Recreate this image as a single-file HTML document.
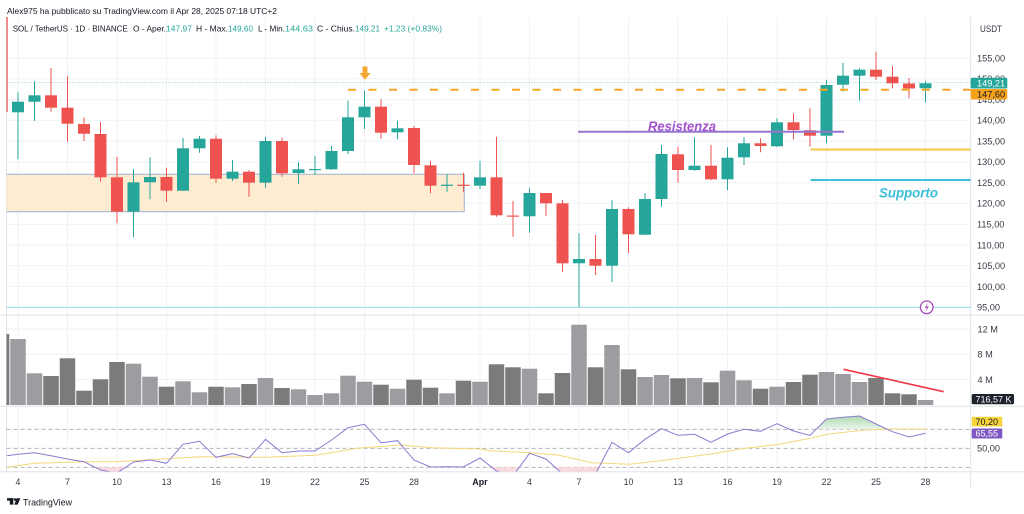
<!DOCTYPE html>
<html><head><meta charset="utf-8"><style>
html,body{margin:0;padding:0;background:#fff;}
svg{display:block;font-family:"Liberation Sans",sans-serif;}
</style></head><body>
<svg width="1024" height="514" viewBox="0 0 1024 514" xmlns="http://www.w3.org/2000/svg">
<defs>
<clipPath id="cp"><rect x="6.5" y="17" width="964.2" height="298"/></clipPath>
<clipPath id="cv"><rect x="6.5" y="315" width="964.2" height="91"/></clipPath>
<clipPath id="cr"><rect x="6.5" y="407" width="964.2" height="64.5"/></clipPath>
<linearGradient id="gg" x1="0" y1="0" x2="0" y2="1"><stop offset="0" stop-color="#a5d6a7"/><stop offset="1" stop-color="#e8f5e9"/></linearGradient>
</defs>
<rect width="1024" height="514" fill="#fff"/>

<!-- grid -->
<g stroke="#f0f2f6" stroke-width="1">
<line x1="18" y1="17" x2="18" y2="471.5"/><line x1="67.5" y1="17" x2="67.5" y2="471.5"/><line x1="117" y1="17" x2="117" y2="471.5"/><line x1="166.5" y1="17" x2="166.5" y2="471.5"/><line x1="216" y1="17" x2="216" y2="471.5"/><line x1="265.5" y1="17" x2="265.5" y2="471.5"/><line x1="315" y1="17" x2="315" y2="471.5"/><line x1="364.5" y1="17" x2="364.5" y2="471.5"/><line x1="414" y1="17" x2="414" y2="471.5"/><line x1="480" y1="17" x2="480" y2="471.5"/><line x1="529.5" y1="17" x2="529.5" y2="471.5"/><line x1="579" y1="17" x2="579" y2="471.5"/><line x1="628.5" y1="17" x2="628.5" y2="471.5"/><line x1="678" y1="17" x2="678" y2="471.5"/><line x1="727.5" y1="17" x2="727.5" y2="471.5"/><line x1="777" y1="17" x2="777" y2="471.5"/><line x1="826.5" y1="17" x2="826.5" y2="471.5"/><line x1="876" y1="17" x2="876" y2="471.5"/><line x1="925.5" y1="17" x2="925.5" y2="471.5"/>
<line x1="6.5" y1="58" x2="970.7" y2="58"/><line x1="6.5" y1="78.8" x2="970.7" y2="78.8"/><line x1="6.5" y1="99.6" x2="970.7" y2="99.6"/><line x1="6.5" y1="120.3" x2="970.7" y2="120.3"/><line x1="6.5" y1="141.1" x2="970.7" y2="141.1"/><line x1="6.5" y1="161.9" x2="970.7" y2="161.9"/><line x1="6.5" y1="182.7" x2="970.7" y2="182.7"/><line x1="6.5" y1="203.4" x2="970.7" y2="203.4"/><line x1="6.5" y1="224.2" x2="970.7" y2="224.2"/><line x1="6.5" y1="245" x2="970.7" y2="245"/><line x1="6.5" y1="265.8" x2="970.7" y2="265.8"/><line x1="6.5" y1="286.5" x2="970.7" y2="286.5"/>
<line x1="6.5" y1="329" x2="970.7" y2="329"/><line x1="6.5" y1="354.3" x2="970.7" y2="354.3"/><line x1="6.5" y1="379.5" x2="970.7" y2="379.5"/>
</g>

<!-- panel separators -->
<g stroke="#e0e3eb" stroke-width="1">
<line x1="6.5" y1="17" x2="6.5" y2="471.5"/>
<line x1="0" y1="315" x2="1024" y2="315"/>
<line x1="0" y1="406.3" x2="1024" y2="406.3"/>
<line x1="0" y1="471.7" x2="1024" y2="471.7"/>
<line x1="970.7" y1="17" x2="970.7" y2="488"/>
</g>

<!-- PRICE PANE -->
<g clip-path="url(#cp)">
<rect x="6.5" y="174.3" width="457.8" height="37.4" fill="#fdebd2"/>
<line x1="6.5" y1="174.3" x2="464.3" y2="174.3" stroke="#9fb1cf" stroke-width="1"/>
<line x1="6.5" y1="211.7" x2="464.3" y2="211.7" stroke="#9fb1cf" stroke-width="1"/>
<line x1="464.3" y1="174.3" x2="464.3" y2="211.7" stroke="#9fb1cf" stroke-width="1"/>
<line x1="6.5" y1="82.6" x2="970.7" y2="82.6" stroke="#88c9c0" stroke-width="1" stroke-dasharray="1,2"/>
<line x1="6.5" y1="307.3" x2="970.7" y2="307.3" stroke="#9fdcea" stroke-width="1.2"/>
<rect x="6.5" y="17" width="1.2" height="95" fill="#ef5350"/>

<g stroke-width="1">
<g fill="#26a69a" stroke="#26a69a">
<line x1="18" y1="92.3" x2="18" y2="159.3"/><rect x="12" y="101.7" width="12" height="10.6" stroke="none"/>
<line x1="34.5" y1="81.3" x2="34.5" y2="121"/><rect x="28.5" y="95.3" width="12" height="6.4" stroke="none"/>
<line x1="133.5" y1="169.3" x2="133.5" y2="237.3"/><rect x="127.5" y="182.3" width="12" height="29.4" stroke="none"/>
<line x1="150" y1="157.3" x2="150" y2="199.3"/><rect x="144" y="177" width="12" height="5.3" stroke="none"/>
<line x1="183" y1="138" x2="183" y2="191"/><rect x="177" y="148.3" width="12" height="42.4" stroke="none"/>
<line x1="199.5" y1="136" x2="199.5" y2="152.7"/><rect x="193.5" y="138.7" width="12" height="9.6" stroke="none"/>
<line x1="232.5" y1="160" x2="232.5" y2="181"/><rect x="226.5" y="171.7" width="12" height="7" stroke="none"/>
<line x1="265.5" y1="136.7" x2="265.5" y2="187.7"/><rect x="259.5" y="141" width="12" height="41.7" stroke="none"/>
<line x1="298.5" y1="162.3" x2="298.5" y2="184.3"/><rect x="292.5" y="169.3" width="12" height="3.7" stroke="none"/>
<line x1="315" y1="155.7" x2="315" y2="175"/><rect x="309" y="169" width="12" height="1.2" stroke="none"/>
<line x1="331.5" y1="146" x2="331.5" y2="170"/><rect x="325.5" y="151" width="12" height="18.3" stroke="none"/>
<line x1="348" y1="100.7" x2="348" y2="154.3"/><rect x="342" y="117.3" width="12" height="33.7" stroke="none"/>
<line x1="364.5" y1="90.7" x2="364.5" y2="129"/><rect x="358.5" y="106.7" width="12" height="10.6" stroke="none"/>
<line x1="397.5" y1="120.7" x2="397.5" y2="139.3"/><rect x="391.5" y="128.3" width="12" height="4" stroke="none"/>
<line x1="447" y1="174.3" x2="447" y2="191.7"/><rect x="441" y="184.7" width="12" height="1.2" stroke="none"/>
<line x1="480" y1="160.7" x2="480" y2="189"/><rect x="474" y="177.3" width="12" height="8.4" stroke="none"/>
<line x1="529.5" y1="188.3" x2="529.5" y2="232.7"/><rect x="523.5" y="193" width="12" height="23.3" stroke="none"/>
<line x1="579" y1="233.3" x2="579" y2="306.7"/><rect x="573" y="259" width="12" height="4.3" stroke="none"/>
<line x1="612" y1="200" x2="612" y2="282.3"/><rect x="606" y="209" width="12" height="56.7" stroke="none"/>
<line x1="645" y1="193.3" x2="645" y2="235"/><rect x="639" y="199" width="12" height="35.7" stroke="none"/>
<line x1="661.5" y1="145" x2="661.5" y2="206.7"/><rect x="655.5" y="154" width="12" height="45" stroke="none"/>
<line x1="694.5" y1="137.3" x2="694.5" y2="170.7"/><rect x="688.5" y="165.7" width="12" height="4.3" stroke="none"/>
<line x1="727.5" y1="147.3" x2="727.5" y2="190"/><rect x="721.5" y="157.7" width="12" height="21.6" stroke="none"/>
<line x1="744" y1="137.3" x2="744" y2="165"/><rect x="738" y="143.3" width="12" height="14" stroke="none"/>
<line x1="777" y1="118.3" x2="777" y2="147"/><rect x="771" y="122.3" width="12" height="24" stroke="none"/>
<line x1="826.5" y1="80" x2="826.5" y2="143.3"/><rect x="820.5" y="85" width="12" height="50.7" stroke="none"/>
<line x1="843" y1="62.7" x2="843" y2="91.7"/><rect x="837" y="75.7" width="12" height="9" stroke="none"/>
<line x1="859.5" y1="68.3" x2="859.5" y2="100.7"/><rect x="853.5" y="69.7" width="12" height="6" stroke="none"/>
<line x1="925.5" y1="81" x2="925.5" y2="102.3"/><rect x="919.5" y="83.3" width="12" height="5" stroke="none"/>
</g>
<g fill="#ef5350" stroke="#ef5350">
<line x1="51" y1="68" x2="51" y2="111.7"/><rect x="45" y="95.3" width="12" height="12.4" stroke="none"/>
<line x1="67.5" y1="76" x2="67.5" y2="141.7"/><rect x="61.5" y="107.7" width="12" height="16" stroke="none"/>
<line x1="84" y1="117.3" x2="84" y2="141"/><rect x="78" y="124" width="12" height="9.7" stroke="none"/>
<line x1="100.5" y1="122" x2="100.5" y2="181.7"/><rect x="94.5" y="134" width="12" height="43.3" stroke="none"/>
<line x1="117" y1="156.7" x2="117" y2="223.3"/><rect x="111" y="177.3" width="12" height="34.4" stroke="none"/>
<line x1="166.5" y1="167.7" x2="166.5" y2="201.7"/><rect x="160.5" y="177" width="12" height="13.7" stroke="none"/>
<line x1="216" y1="135.3" x2="216" y2="182.7"/><rect x="210" y="138.7" width="12" height="40" stroke="none"/>
<line x1="249" y1="170" x2="249" y2="196.7"/><rect x="243" y="171.7" width="12" height="11" stroke="none"/>
<line x1="282" y1="137.7" x2="282" y2="176.7"/><rect x="276" y="141" width="12" height="32.3" stroke="none"/>
<line x1="381" y1="99.3" x2="381" y2="138.7"/><rect x="375" y="106.7" width="12" height="26" stroke="none"/>
<line x1="414" y1="126" x2="414" y2="173.3"/><rect x="408" y="128" width="12" height="37" stroke="none"/>
<line x1="430.5" y1="160.7" x2="430.5" y2="193.3"/><rect x="424.5" y="165.3" width="12" height="20.4" stroke="none"/>
<line x1="463.5" y1="172.7" x2="463.5" y2="191.7"/><rect x="457.5" y="184.7" width="12" height="1.2" stroke="none"/>
<line x1="496.5" y1="136.7" x2="496.5" y2="216.7"/><rect x="490.5" y="177.3" width="12" height="38" stroke="none"/>
<line x1="513" y1="201" x2="513" y2="236.7"/><rect x="507" y="215.5" width="12" height="1.2" stroke="none"/>
<line x1="546" y1="193" x2="546" y2="216"/><rect x="540" y="193" width="12" height="10.3" stroke="none"/>
<line x1="562.5" y1="200" x2="562.5" y2="271.7"/><rect x="556.5" y="203.3" width="12" height="60" stroke="none"/>
<line x1="595.5" y1="235" x2="595.5" y2="275"/><rect x="589.5" y="259" width="12" height="6.7" stroke="none"/>
<line x1="628.5" y1="207.3" x2="628.5" y2="253.3"/><rect x="622.5" y="209" width="12" height="25.3" stroke="none"/>
<line x1="678" y1="146.7" x2="678" y2="182.7"/><rect x="672" y="154.3" width="12" height="15.7" stroke="none"/>
<line x1="711" y1="145" x2="711" y2="180"/><rect x="705" y="165.7" width="12" height="13.6" stroke="none"/>
<line x1="760.5" y1="138.3" x2="760.5" y2="152.3"/><rect x="754.5" y="143.3" width="12" height="2.7" stroke="none"/>
<line x1="793.5" y1="113.3" x2="793.5" y2="139.3"/><rect x="787.5" y="122.3" width="12" height="7.7" stroke="none"/>
<line x1="810" y1="108.3" x2="810" y2="146.7"/><rect x="804" y="130.3" width="12" height="5.4" stroke="none"/>
<line x1="876" y1="51.7" x2="876" y2="80"/><rect x="870" y="69.7" width="12" height="7" stroke="none"/>
<line x1="892.5" y1="66" x2="892.5" y2="88.3"/><rect x="886.5" y="76.7" width="12" height="6.6" stroke="none"/>
<line x1="909" y1="78" x2="909" y2="98.3"/><rect x="903" y="83.5" width="12" height="5" stroke="none"/>
</g>
</g>

<!-- drawings -->
<line x1="348" y1="89.7" x2="970.7" y2="89.7" stroke="#f5a623" stroke-width="2" stroke-dasharray="8,12.5"/>
<line x1="578" y1="131.7" x2="844" y2="131.7" stroke="#9575cd" stroke-width="2"/>
<line x1="810.5" y1="149.5" x2="970.7" y2="149.5" stroke="#f6c64a" stroke-width="2"/>
<line x1="810.5" y1="180" x2="970.7" y2="180" stroke="#3fc0da" stroke-width="2"/>
<text x="648" y="131" font-size="13.5" font-weight="bold" font-style="italic" fill="#a251cc" textLength="68" lengthAdjust="spacingAndGlyphs">Resistenza</text>
<text x="879" y="197.5" font-size="13.5" font-weight="bold" font-style="italic" fill="#3bbfd8" textLength="59" lengthAdjust="spacingAndGlyphs">Supporto</text>
<rect x="362.6" y="66.5" width="4.8" height="7" fill="#f7a531"/>
<polygon points="359.3,73 370.7,73 365,79.8" fill="#f7a531"/>
<circle cx="926.7" cy="307.3" r="6.3" fill="#fff" stroke="#ab47bc" stroke-width="1.3"/>
<path d="M928.2 302.8 L924.6 308 L926.9 308 L925.4 311.9 L928.9 306.6 L926.6 306.6 Z" fill="#ab47bc"/>
</g>

<!-- VOLUME -->
<g clip-path="url(#cv)">
<rect x="6.5" y="334" width="2.8" height="71" fill="#7a7a7a"/>
<g fill="#9d9da1">
<rect x="10.25" y="339" width="15.5" height="66"/><rect x="26.75" y="373.3" width="15.5" height="31.7"/>
<rect x="125.75" y="363.7" width="15.5" height="41.3"/><rect x="142.25" y="376.7" width="15.5" height="28.3"/>
<rect x="175.25" y="381.3" width="15.5" height="23.7"/><rect x="191.75" y="392.3" width="15.5" height="12.7"/>
<rect x="224.75" y="387.3" width="15.5" height="17.7"/><rect x="257.75" y="378" width="15.5" height="27"/>
<rect x="290.75" y="389.3" width="15.5" height="15.7"/><rect x="307.25" y="395" width="15.5" height="10"/>
<rect x="323.75" y="393.3" width="15.5" height="11.7"/><rect x="340.25" y="375.7" width="15.5" height="29.3"/>
<rect x="356.75" y="381.7" width="15.5" height="23.3"/><rect x="389.75" y="388.7" width="15.5" height="16.3"/>
<rect x="439.25" y="393.3" width="15.5" height="11.7"/><rect x="472.25" y="381.7" width="15.5" height="23.3"/>
<rect x="521.75" y="368.7" width="15.5" height="36.3"/><rect x="571.25" y="324.7" width="15.5" height="80.3"/>
<rect x="604.25" y="345" width="15.5" height="60"/><rect x="637.25" y="377" width="15.5" height="28"/>
<rect x="653.75" y="375" width="15.5" height="30"/><rect x="686.75" y="378" width="15.5" height="27"/>
<rect x="719.75" y="370.7" width="15.5" height="34.3"/><rect x="736.25" y="380.3" width="15.5" height="24.7"/>
<rect x="769.25" y="386.7" width="15.5" height="18.3"/><rect x="818.75" y="372" width="15.5" height="33"/>
<rect x="835.25" y="374" width="15.5" height="31"/><rect x="851.75" y="382" width="15.5" height="23"/>
<rect x="917.75" y="400" width="15.5" height="5"/>
</g>
<g fill="#7b7b7b">
<rect x="43.25" y="376" width="15.5" height="29"/><rect x="59.75" y="358.3" width="15.5" height="46.7"/>
<rect x="76.25" y="390.7" width="15.5" height="14.3"/><rect x="92.75" y="379.3" width="15.5" height="25.7"/>
<rect x="109.25" y="362" width="15.5" height="43"/><rect x="158.75" y="386.7" width="15.5" height="18.3"/>
<rect x="208.25" y="386.7" width="15.5" height="18.3"/><rect x="241.25" y="384" width="15.5" height="21"/>
<rect x="274.25" y="388" width="15.5" height="17"/><rect x="373.25" y="384.7" width="15.5" height="20.3"/>
<rect x="406.25" y="379.7" width="15.5" height="25.3"/><rect x="422.75" y="387.7" width="15.5" height="17.3"/>
<rect x="455.75" y="380.7" width="15.5" height="24.3"/><rect x="488.75" y="364.3" width="15.5" height="40.7"/>
<rect x="505.25" y="367.3" width="15.5" height="37.7"/><rect x="538.25" y="393.3" width="15.5" height="11.7"/>
<rect x="554.75" y="373" width="15.5" height="32"/><rect x="587.75" y="367.3" width="15.5" height="37.7"/>
<rect x="620.75" y="369.3" width="15.5" height="35.7"/><rect x="670.25" y="378.3" width="15.5" height="26.7"/>
<rect x="703.25" y="382.3" width="15.5" height="22.7"/><rect x="752.75" y="388.7" width="15.5" height="16.3"/>
<rect x="785.75" y="382" width="15.5" height="23"/><rect x="802.25" y="374.7" width="15.5" height="30.3"/>
<rect x="868.25" y="378" width="15.5" height="27"/><rect x="884.75" y="393.3" width="15.5" height="11.7"/>
<rect x="901.25" y="394.3" width="15.5" height="10.7"/>
</g>
<line x1="843.5" y1="369.3" x2="943.7" y2="391.7" stroke="#f23645" stroke-width="1.6"/>
</g>

<!-- RSI -->
<g clip-path="url(#cr)">
<g stroke="#a3a6ae" stroke-width="0.8" stroke-dasharray="4,3">
<line x1="6.5" y1="429.3" x2="970.7" y2="429.3"/>
<line x1="6.5" y1="448.3" x2="970.7" y2="448.3"/>
<line x1="6.5" y1="467.3" x2="970.7" y2="467.3"/>
</g>
<polygon points="816,429.3 826.5,419 843,417.3 859.5,416 876,424 887.4,429.3" fill="url(#gg)" opacity="0.9"/>
<g fill="#f9d9dc">
<polygon points="95.1,467.3 100.5,470 117,473 125.5,467.3"/>
<polygon points="491.8,467.3 496.5,471 513,476 519.3,467.3"/>
<polygon points="555.1,467.3 562.5,474 579,476 595.5,474 599,467.3"/>
</g>
<polyline fill="none" stroke="#f4d77a" stroke-width="1" points="6.7,467.3 34.5,463.3 84,461.7 117,461.7 166.5,458.7 200,456.7 266,457.3 316,455.3 357,448.3 400,445 433,447.7 480,449 490,450.7 530,452.7 558,455 592,462.7 629,464.3 660,460.7 711,454 745,448.3 779.5,444.3 810,438.3 827,434.3 865,430 892,429 926.6,429"/>
<polyline fill="none" stroke="#8b7bd0" stroke-width="1" points="6.7,455.7 18,454.3 34.5,452.7 51,455.7 67.5,459 84,461.7 100.5,470 117,473 133.5,462 150,460 166.5,463.3 183,444.3 199.5,441.3 216,457.3 232.5,453.7 249,458 265.5,439.3 282,452.7 298.5,451 315,451 331.5,440 348,427.7 364.5,424.3 381,442.7 397.5,440.7 414,460 430.5,467 447,466.7 463.5,467 480,458 496.5,471 513,476 529.5,453.3 546,459 562.5,474 579,476 595.5,474 612,442.3 628.5,452.7 645,439.3 661.5,428.7 678,435.3 694.5,434.3 711,442.3 727.5,434 744,429.3 760.5,431.3 777,423.7 793.5,431 810,435.3 826.5,419 843,417.3 859.5,416 876,424 892.5,431.7 909,437 925.5,433.3"/>
</g>

<!-- Header -->
<text x="7" y="14.2" font-size="8.6" fill="#131722" textLength="270" lengthAdjust="spacingAndGlyphs">Alex975 ha pubblicato su TradingView.com il Apr 28, 2025 07:18 UTC+2</text>
<g font-size="8.4" fill="#131722">
<text x="12.7" y="31.3" textLength="115" lengthAdjust="spacingAndGlyphs">SOL / TetherUS · 1D · BINANCE</text>
<text x="133" y="31.3" textLength="33" lengthAdjust="spacingAndGlyphs">O - Aper.</text>
<text x="166" y="31.3" textLength="26" lengthAdjust="spacingAndGlyphs" fill="#26a69a">147,97</text>
<text x="196" y="31.3" textLength="32" lengthAdjust="spacingAndGlyphs">H - Max.</text>
<text x="228" y="31.3" textLength="25" lengthAdjust="spacingAndGlyphs" fill="#26a69a">149,60</text>
<text x="258" y="31.3" textLength="27" lengthAdjust="spacingAndGlyphs">L - Min.</text>
<text x="285" y="31.3" textLength="28" lengthAdjust="spacingAndGlyphs" fill="#26a69a">144,63</text>
<text x="317" y="31.3" textLength="38" lengthAdjust="spacingAndGlyphs">C - Chius.</text>
<text x="355" y="31.3" textLength="25" lengthAdjust="spacingAndGlyphs" fill="#26a69a">149,21</text>
<text x="384" y="31.3" textLength="58" lengthAdjust="spacingAndGlyphs" fill="#26a69a">+1,23 (+0,83%)</text>
</g>

<!-- Right axis labels -->
<g font-size="9.2" fill="#363a45">
<text x="980" y="32.2" textLength="22" lengthAdjust="spacingAndGlyphs">USDT</text>
<text x="977" y="61.3">155,00</text>
<text x="977" y="82.1">150,00</text>
<text x="977" y="102.9">145,00</text>
<text x="977" y="123.6">140,00</text>
<text x="977" y="144.4">135,00</text>
<text x="977" y="165.2">130,00</text>
<text x="977" y="186">125,00</text>
<text x="977" y="206.7">120,00</text>
<text x="977" y="227.5">115,00</text>
<text x="977" y="248.3">110,00</text>
<text x="977" y="269.1">105,00</text>
<text x="977" y="289.8">100,00</text>
<text x="977" y="310.6">95,00</text>
<text x="977.5" y="332.3">12 M</text>
<text x="977.5" y="357.6">8 M</text>
<text x="977.5" y="382.8">4 M</text>
<text x="977" y="451.3">50,00</text>
</g>
<rect x="970.7" y="77.7" width="36.6" height="10.8" rx="1.5" fill="#26a69a"/>
<text x="977" y="86.3" font-size="9.2" fill="#fff">149,21</text>
<rect x="970.7" y="89" width="36.6" height="10.5" rx="1.5" fill="#f7a21b"/>
<text x="977" y="97.6" font-size="9.2" fill="#131722">147,60</text>
<rect x="971.7" y="394" width="42.3" height="10.3" rx="1.5" fill="#1e222d"/>
<text x="975.5" y="402.4" font-size="9" fill="#fff">716,57 K</text>
<rect x="971.7" y="416.7" width="30.6" height="9.8" rx="1" fill="#f7d43c"/>
<text x="975.5" y="424.8" font-size="9" fill="#131722">70,20</text>
<rect x="971.7" y="428.5" width="30.6" height="10" rx="1" fill="#7e57c2"/>
<text x="975.5" y="436.7" font-size="9" fill="#fff">65,55</text>

<!-- X axis -->
<g font-size="8.8" fill="#363a45" text-anchor="middle">
<text x="18" y="485">4</text><text x="67.5" y="485">7</text><text x="117" y="485">10</text><text x="166.5" y="485">13</text><text x="216" y="485">16</text><text x="265.5" y="485">19</text><text x="315" y="485">22</text><text x="364.5" y="485">25</text><text x="414" y="485">28</text><text x="480" y="485" font-weight="bold" fill="#131722">Apr</text><text x="529.5" y="485">4</text><text x="579" y="485">7</text><text x="628.5" y="485">10</text><text x="678" y="485">13</text><text x="727.5" y="485">16</text><text x="777" y="485">19</text><text x="826.5" y="485">22</text><text x="876" y="485">25</text><text x="925.5" y="485">28</text>
</g>

<!-- TradingView logo -->
<g fill="#131722">
<rect x="7" y="498.2" width="6.3" height="2.4"/>
<rect x="9.8" y="498.2" width="3.5" height="6.4"/>
<circle cx="15.2" cy="499.5" r="1.3"/>
<polygon points="16.8,498.2 20.3,498.2 17.6,504.6 14.2,504.6"/>
</g>
<text x="23" y="505.3" font-size="9.4" fill="#131722" textLength="49" lengthAdjust="spacingAndGlyphs">TradingView</text>
</svg>
</body></html>
